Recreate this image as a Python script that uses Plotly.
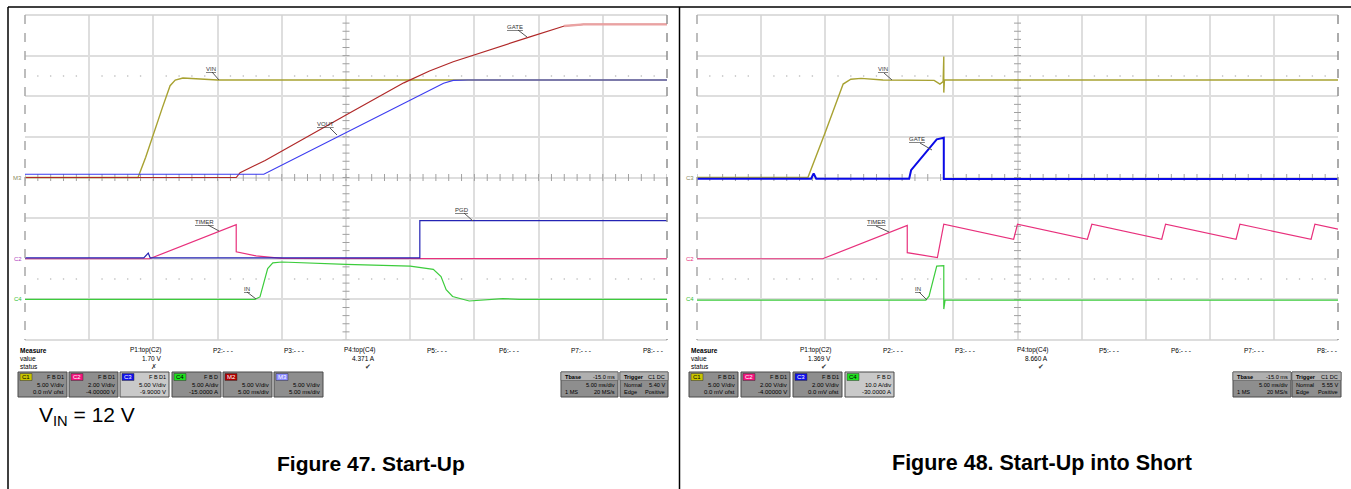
import numpy as np
import plotly.graph_objects as go

W, H = 1351, 489

# ---------------- Figure 47: Start-Up (time in ms, trigger at 0) ----------------
f47_vin_t = [-10, -1.2, -0.6, 0, 0.7, 1.3, 1.7, 2.3, 3.5, 5, 40]
f47_vin_v = [0, 0, 2.5, 5.4, 8.6, 11.3, 12.0, 12.25, 12.1, 12.0, 12.0]

f47_gate_t = [-10, 6.45, 6.75, 8.7, 15, 19.5, 21.5, 23.35, 29.2, 32.0, 33.5, 40]
f47_gate_v = [0, 0, 0.6, 2.1, 7.7, 11.65, 13.1, 14.25, 17.25, 18.65, 18.85, 18.85]

f47_vout_t = [-10, 8.6, 22.6, 23.35, 24.5, 40]
f47_vout_v = [0.4, 0.4, 11.6, 11.95, 12.0, 12.0]

f47_timer_t = [-10, -0.3, 6.45, 6.45, 8.0, 10, 40]
f47_timer_v = [0, 0, 1.68, 0.34, 0.14, 0.02, 0]

f47_pgd_t = [-10, -0.75, -0.4, -0.25, 20.75, 20.75, 40]
f47_pgd_v = [0, 0, 0.6, 0, 0, 4.6, 4.6]

f47_in_t = [-10, 7.9, 8.3, 8.6, 8.9, 9.3, 10.0, 15, 20, 21.8, 22.4, 22.8, 23.3, 24.6, 26.0, 27.2, 28.5, 40]
f47_in_a = [0, 0, 0.3, 2.0, 3.8, 4.5, 4.6, 4.3, 4.1, 3.7, 2.8, 1.2, 0.35, -0.2, -0.05, 0.1, 0, 0]

# ---------------- Figure 48: Start-Up into Short ----------------
f48_vin_t = [-10, -1.35, 0, 1.4, 2.0, 2.8, 4.5, 8.5, 8.95, 9.2, 9.25, 9.25, 9.3, 40]
f48_vin_v = [0, 0, 5.55, 11.5, 12.1, 12.2, 12.0, 11.95, 11.5, 11.8, 14.9, 10.45, 12.0, 12.0]

f48_gate_t = [-10, -1.1, -0.9, -0.7, 6.55, 6.7, 8.7, 9.1, 9.25, 9.25, 40]
f48_gate_v = [-0.06, -0.06, 0.2, -0.06, -0.06, 0.36, 1.88, 1.96, 1.96, -0.08, -0.08]

f48_timer_t = [-10, -0.2, 6.4, 6.4, 8.75, 9.25, 14.7, 15.0, 20.45, 20.8, 26.25, 26.55,
               32.05, 32.35, 37.9, 38.2, 40]
f48_timer_v = [0, 0, 1.64, 0.3, 0.06, 1.7, 0.96, 1.7, 0.96, 1.7, 0.96, 1.7,
               0.96, 1.7, 0.96, 1.7, 1.46]

f48_in_t = [-10, 7.85, 8.1, 8.35, 8.55, 8.7, 9.25, 9.25, 9.35, 40]
f48_in_a = [-0.2, -0.2, 0.8, 4.0, 7.0, 8.2, 8.3, -2.4, -0.2, -0.2]

# channel settings: (units per div, offset)
f47_channels = {'C1': (5.0, 0.0), 'C2': (2.0, -4.0), 'C3': (5.0, -9.9), 'C4': (5.0, -15.0),
                'M2': (5.0, 0.0), 'M3': (5.0, 0.0)}
f48_channels = {'C1': (5.0, 0.0), 'C2': (2.0, -4.0), 'C3': (2.0, 0.0), 'C4': (10.0, -30.0)}

f47_trigger_level = 5.40
f48_trigger_level = 5.55

f47_measure_values = {'P1': ('P1:top(C2)', '1.70 V', '✗'), 'P4': ('P4:top(C4)', '4.371 A', '✔')}
f48_measure_values = {'P1': ('P1:top(C2)', '1.369 V', '✔'), 'P4': ('P4:top(C4)', '8.660 A', '✔')}

tag_colors = {'C1': '#c8c400', 'C2': '#f0147c', 'C3': '#1010e8', 'C4': '#20e020',
              'M2': '#b00000', 'M3': '#8a8aff'}

SMALL = 'Liberation Sans Narrow, Arial Narrow, Liberation Sans, Arial'
PLAIN = 'Liberation Sans, Arial'


def px(x):
    return x / W


def py(y):
    return 1 - y / H


shapes = []
annotations = []


def line(x0, y0, x1, y1, color='#000', width=1, dash='solid'):
    shapes.append(dict(type='line', xref='paper', yref='paper', x0=px(x0), y0=py(y0), x1=px(x1), y1=py(y1),
                       line=dict(color=color, width=width, dash=dash), layer='above'))


def rect(x0, y0, x1, y1, fill, color='#555', width=1):
    shapes.append(dict(type='rect', xref='paper', yref='paper', x0=px(x0), y0=py(y0), x1=px(x1), y1=py(y1),
                       fillcolor=fill, line=dict(color=color, width=width), layer='above'))


def text(x, y, s, size=7, anchor='left', color='#000', family=SMALL):
    annotations.append(dict(x=px(x), y=py(y), xref='paper', yref='paper', text=s, showarrow=False,
                            xanchor=anchor, yanchor='middle', font=dict(size=size, color=color, family=family)))


fig = go.Figure()

x_dom = {'x': [25 / W, 667 / W], 'x2': [697 / W, 1338 / W]}
y_dom = [py(340), py(15)]

axis_common = dict(range=[-10, 40], dtick=5, showticklabels=False, ticks='', zeroline=False,
                   showgrid=True, gridcolor='#dedede', gridwidth=1.6, fixedrange=True)
fig.update_layout(
    xaxis=dict(domain=x_dom['x'], anchor='y', **axis_common),
    xaxis2=dict(domain=x_dom['x2'], anchor='y2', **axis_common),
    yaxis=dict(domain=y_dom, anchor='x', range=[-4, 4], dtick=1, showticklabels=False, zeroline=False,
               showgrid=True, gridcolor='#dedede', gridwidth=1.6, fixedrange=True),
    yaxis2=dict(domain=y_dom, anchor='x2', range=[-4, 4], dtick=1, showticklabels=False, zeroline=False,
                showgrid=True, gridcolor='#dedede', gridwidth=1.6, fixedrange=True),
)


def channel_axis(n, base, xa, scale, offset):
    '''hidden y axis whose range follows the channel volts/div and offset (8 divisions)'''
    fig.layout['yaxis%d' % n] = dict(overlaying=base, anchor=xa, domain=y_dom, visible=False,
                                     range=[-4 * scale - offset, 4 * scale - offset], fixedrange=True)
    return 'y%d' % n


def scope_grid(xa, ya):
    '''centre crosshair ticks and the dotted +-2.5 div markers'''
    t = np.arange(-10, 40.01, 1)
    fig.add_trace(go.Scatter(x=t, y=[0] * len(t), xaxis=xa, yaxis=ya, mode='markers', hoverinfo='skip',
                             marker=dict(symbol='line-ns', size=5, line=dict(color='#a0a0a0', width=1))))
    d = np.arange(-4, 4.01, 0.2)
    fig.add_trace(go.Scatter(x=[15] * len(d), y=d, xaxis=xa, yaxis=ya, mode='markers', hoverinfo='skip',
                             marker=dict(symbol='line-ew', size=5, line=dict(color='#a0a0a0', width=1))))
    dots = [v for v in t if v % 5 != 0]
    for lvl in (2.5, -2.5):
        fig.add_trace(go.Scatter(x=dots, y=[lvl] * len(dots), xaxis=xa, yaxis=ya, mode='markers',
                                 hoverinfo='skip', marker=dict(symbol='circle', size=1.6, color='#b8b8b8')))


def wave(xa, ya, t, v, color, width=1.2):
    fig.add_trace(go.Scatter(x=t, y=v, xaxis=xa, yaxis=ya, mode='lines', hoverinfo='skip',
                             line=dict(color=color, width=width)))


scope_grid('x', 'y')
scope_grid('x2', 'y2')

# ---- left scope
ya47 = {name: channel_axis(3 + i, 'y', 'x', *f47_channels[name]) for i, name in enumerate(f47_channels)}
wave('x', ya47['C4'], f47_in_t, f47_in_a, '#3ccc3c')
wave('x', ya47['C2'], f47_timer_t, f47_timer_v, '#e8307c')
wave('x', ya47['C3'], f47_pgd_t, f47_pgd_v, '#2424b4')
wave('x', ya47['C1'], f47_vin_t, f47_vin_v, '#a8a232', 1.4)
wave('x', ya47['M3'], f47_vout_t, f47_vout_v, '#3c3cf0')
wave('x', ya47['M2'], f47_gate_t, f47_gate_v, '#b02828')
# the settled part of the gate trace is drawn pale on the screen
late = [i for i, t in enumerate(f47_gate_t) if t >= 32.0]
wave('x', ya47['M2'], [f47_gate_t[i] for i in late], [f47_gate_v[i] for i in late], '#eaa2a2', 2.4)

# ---- right scope
ya48 = {name: channel_axis(9 + i, 'y2', 'x2', *f48_channels[name]) for i, name in enumerate(f48_channels)}
wave('x2', ya48['C4'], f48_in_t, f48_in_a, '#3ccc3c')
wave('x2', ya48['C2'], f48_timer_t, f48_timer_v, '#e8307c')
wave('x2', ya48['C1'], f48_vin_t, f48_vin_v, '#a8a232', 1.4)
wave('x2', ya48['C3'], f48_gate_t, f48_gate_v, '#0a0ae6', 2)

# trigger markers: time position below grid, level on the right edge
for xa, ya_c1, lvl in (('x', ya47['C1'], f47_trigger_level), ('x2', ya48['C1'], f48_trigger_level)):
    fig.add_trace(go.Scatter(x=[0], y=[-4.13], xaxis=xa, yaxis='y' if xa == 'x' else 'y2', mode='markers',
                             cliponaxis=False, hoverinfo='skip',
                             marker=dict(symbol='triangle-up', size=6, color='#c8c000')))
    fig.add_trace(go.Scatter(x=[40.35], y=[lvl], xaxis=xa, yaxis=ya_c1, mode='markers', cliponaxis=False,
                             hoverinfo='skip', marker=dict(symbol='triangle-left', size=6, color='#c8c000')))

# channel ground markers on the left edge
for xa, ya, label, color in (('x', ya47['M3'], 'M3', '#8a8a60'),
                             ('x', ya47['C2'], 'C2', '#b040c0'),
                             ('x', ya47['C4'], 'C4', '#30c030'),
                             ('x2', ya48['C3'], 'C3', '#8a8a60'),
                             ('x2', ya48['C2'], 'C2', '#e8307c'),
                             ('x2', ya48['C4'], 'C4', '#30c030')):
    annotations.append(dict(x=-10, y=0, xref=xa, yref=ya, text=label, showarrow=False, xanchor='right',
                            yanchor='middle', xshift=-1, font=dict(size=6, color=color, family=SMALL)))

# waveform name labels with leader lines (pixel positions)
trace_labels = [('VIN', 204, 69, 212, 72, 219, 80), ('VOUT', 315, 124, 330, 128, 337, 135),
                ('GATE', 505, 27, 518, 30, 527, 37), ('TIMER', 193, 222, 208, 225, 219, 231),
                ('PGD', 453, 210, 464, 213, 473, 221), ('IN', 242, 289, 247, 292, 256, 299),
                ('VIN', 876, 69, 884, 73, 892, 80), ('GATE', 907, 139, 920, 143, 932, 150),
                ('TIMER', 865, 222, 876, 226, 889, 232), ('IN', 913, 289, 919, 292, 927, 300)]
for lab, tx, ty, lx0, ly0, lx1, ly1 in trace_labels:
    text(tx, ty, '<u>%s</u>' % lab, size=6, color='#333')
    line(lx0, ly0, lx1, ly1, '#555', 1)

# grid outline
for gx0, gx1 in ((25, 667), (697, 1338)):
    line(gx0, 15, gx1, 15, '#d2d2d2', 1.5)
    line(gx0, 340, gx1, 340, '#d2d2d2', 1.5)
    line(gx0, 15, gx0, 340, '#a8a8a8', 1.5, 'dash')
    line(gx1, 15, gx1, 340, '#909090', 1.5, 'dash')

# outer frame
line(8, 7, W, 7, '#000', 1.5)
line(8, 7, 8, H, '#000', 1.5)
line(679.5, 7, 679.5, H, '#000', 1.5)


def measure_block(x_left, col_right, values):
    text(x_left, 350, '<b>Measure</b>', 6.5)
    text(x_left, 358, 'value', 6.5)
    text(x_left, 366, 'status', 6.5)
    for i, xr in enumerate(col_right):
        key = 'P%d' % (i + 1)
        if key in values:
            head, val, status = values[key]
            text(xr, 358, val, 6.5, 'right')
            text(xr - 4, 366, status, 6.5, 'right', '#333')
        else:
            head = '%s:- - -' % key
        text(xr, 350, head, 6.5, 'right')


def channel_box(x0, name, fbd, l2, l3, highlight=False):
    x1 = x0 + 49
    rect(x0, 372, x1, 397, '#c9c9c9' if highlight else '#8e8e8e', '#4a4a4a', 1)
    rect(x0 + 2, 373.5, x0 + 14, 380.5, tag_colors[name], '#333', 0.5)
    text(x0 + 8, 377, name, 6, 'center', '#000' if name in ('C1', 'C4') else '#fff')
    if fbd:
        text(x1 - 1, 377, fbd, 5.5, 'right')
    text(x1 - 1, 385, l2, 6, 'right')
    text(x1 - 1, 392, l3, 6, 'right')


def info_box(x0, x1, rows):
    rect(x0, 372, x1, 397, '#8e8e8e', '#4a4a4a', 1)
    rect(x0, 372, x1, 380.5, '#b0b0b0', '#4a4a4a', 0.5)
    for (lft, rgt), yy in zip(rows, (376.5, 385, 392)):
        if lft:
            text(x0 + 1.5, yy, lft, 5.6)
        if rgt:
            text(x1 - 1, yy, rgt, 5.6, 'right')


# left panel readouts
measure_block(18, [163, 235, 306, 377, 449, 521, 593, 665], f47_measure_values)
for x0, name, fbd, hl in ((18, 'C1', 'F B D1', False), (69, 'C2', 'F B D1', False), (120, 'C3', 'F B D1', True),
                          (172, 'C4', 'F B D', False), (223, 'M2', '', False), (274, 'M3', '', False)):
    s, o = f47_channels[name]
    unit = 'A' if name == 'C4' else 'V'
    if name[0] == 'M':
        l3 = '5.00 ms/div'
    elif o == 0:
        l3 = '0.0 mV ofst'
    elif name == 'C2':
        l3 = '%.5f V' % o
    else:
        l3 = '%.4f %s' % (o, unit)
    channel_box(x0, name, fbd, '%.2f %s/div' % (s, unit), l3, hl)
info_box(561, 618, [('<b>Tbase</b>', '-15.0 ms'), ('', '5.00 ms/div'), ('1 MS', '20 MS/s')])
info_box(620, 668, [('<b>Trigger</b>', 'C1 DC'), ('Normal', '%.2f V' % f47_trigger_level), ('Edge', 'Positive')])

# right panel readouts
measure_block(689, [833, 905, 977, 1050, 1121, 1193, 1266, 1339], f48_measure_values)
for x0, name, fbd, hl in ((689, 'C1', 'F B D1', False), (741, 'C2', 'F B D1', False),
                          (793, 'C3', 'F B D1', False), (845, 'C4', 'F B D', True)):
    s, o = f48_channels[name]
    if o == 0:
        l3 = '0.0 mV ofst'
    elif name == 'C4':
        l3 = '%.4f A' % o
    else:
        l3 = '%.5f V' % o
    l2 = '%.1f A/div' % s if name == 'C4' else '%.2f V/div' % s
    channel_box(x0, name, fbd, l2, l3, hl)
info_box(1233, 1291, [('<b>Tbase</b>', '-15.0 ms'), ('', '5.00 ms/div'), ('1 MS', '20 MS/s')])
info_box(1292, 1341, [('<b>Trigger</b>', 'C1 DC'), ('Normal', '%.2f V' % f48_trigger_level), ('Edge', 'Positive')])

# captions
text(37, 416, 'V<sub>IN</sub> = 12 V', 21, family=PLAIN)
text(371, 463, '<b>Figure 47. Start-Up</b>', 21, 'center', family=PLAIN)
text(1042, 463, '<b>Figure 48. Start-Up into Short</b>', 21.5, 'center', family=PLAIN)

fig.update_layout(width=W, height=H, autosize=False, margin=dict(l=0, r=0, t=0, b=0),
                  paper_bgcolor='white', plot_bgcolor='white', showlegend=False,
                  shapes=shapes, annotations=annotations, font=dict(family=SMALL))
# page body margin would shift the figure by 8 px
fig.write_html('out.html', config={'displayModeBar': False},
               post_script="document.body.style.margin='0px';")
